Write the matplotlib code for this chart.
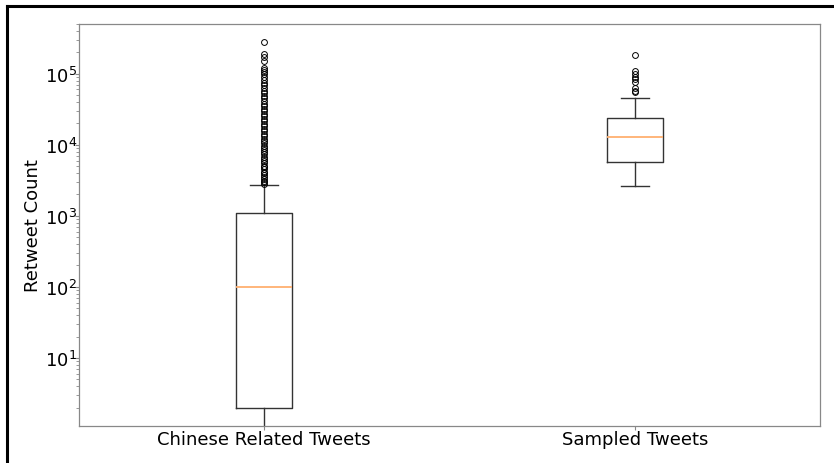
import matplotlib
matplotlib.use('Agg')
import matplotlib.pyplot as plt
from matplotlib.lines import Line2D

# box summary stats (log scale)
labels = ['Chinese Related Tweets', 'Sampled Tweets']
q1 = [2, 5700]
med = [100, 13000]
q3 = [1100, 24000]
whislo = [1, 2650]
whishi = [2750, 46000]

fliers_chinese = [2800, 2950, 3100, 3300, 3500, 3700, 3950, 4200, 4500, 4800,
                  5100, 5500, 5900, 6300, 6800, 7300, 7800, 8400, 9000, 9700,
                  10500, 11300, 12200, 13200, 14300, 15500, 16800, 18200, 19700,
                  21300, 23000, 25000, 27000, 29500, 32000, 35000, 38000, 41000,
                  45000, 49000, 53000, 58000, 63000, 69000, 75000, 82000, 90000,
                  98000, 105000, 112000, 120000, 150000, 170000, 190000, 280000]
fliers_sampled = [56000, 58000, 63000, 77000, 85000, 91000, 100000, 110000, 185000]
fliers = [fliers_chinese, fliers_sampled]

stats = []
for i in range(len(labels)):
    stats.append(dict(label=labels[i], q1=q1[i], med=med[i], q3=q3[i],
                      whislo=whislo[i], whishi=whishi[i], fliers=fliers[i]))

fig = plt.figure(figsize=(8.34, 4.64), dpi=100)
ax = fig.add_axes([0.0947, 0.0797, 0.8885, 0.8663])

lw = 1.0
ax.bxp(stats, positions=[1, 2], widths=0.15,
       boxprops=dict(color='#333333', linewidth=lw),
       whiskerprops=dict(color='#333333', linewidth=lw),
       capprops=dict(color='#333333', linewidth=lw),
       medianprops=dict(color='#ffb070', linewidth=1.3),
       flierprops=dict(marker='o', markersize=4.2, markerfacecolor='none',
                       markeredgecolor='black', markeredgewidth=0.7))

ax.set_yscale('log')
ax.set_ylim(1.1, 5.0e5)
ax.set_xlim(0.5, 2.5)
ax.set_ylabel('Retweet Count', fontsize=13, labelpad=2)
ax.tick_params(axis='both', labelsize=13)
for s in ax.spines.values():
    s.set_color('#888888')
    s.set_linewidth(0.9)
ax.tick_params(axis='y', which='major', color='#888888', length=3, pad=-1.5)
ax.tick_params(axis='y', which='minor', color='#888888', length=2)
ax.tick_params(axis='x', color='#888888', length=3, pad=0)

# screenshot frame (left and top edges only)
fig.add_artist(Line2D([6.5 / 834, 6.5 / 834], [0, 1 - 6.5 / 464],
                      transform=fig.transFigure, color='black', linewidth=2.2))
fig.add_artist(Line2D([6.5 / 834, 1], [1 - 6.5 / 464, 1 - 6.5 / 464],
                      transform=fig.transFigure, color='black', linewidth=2.2))

fig.savefig('out.png', dpi=100)
